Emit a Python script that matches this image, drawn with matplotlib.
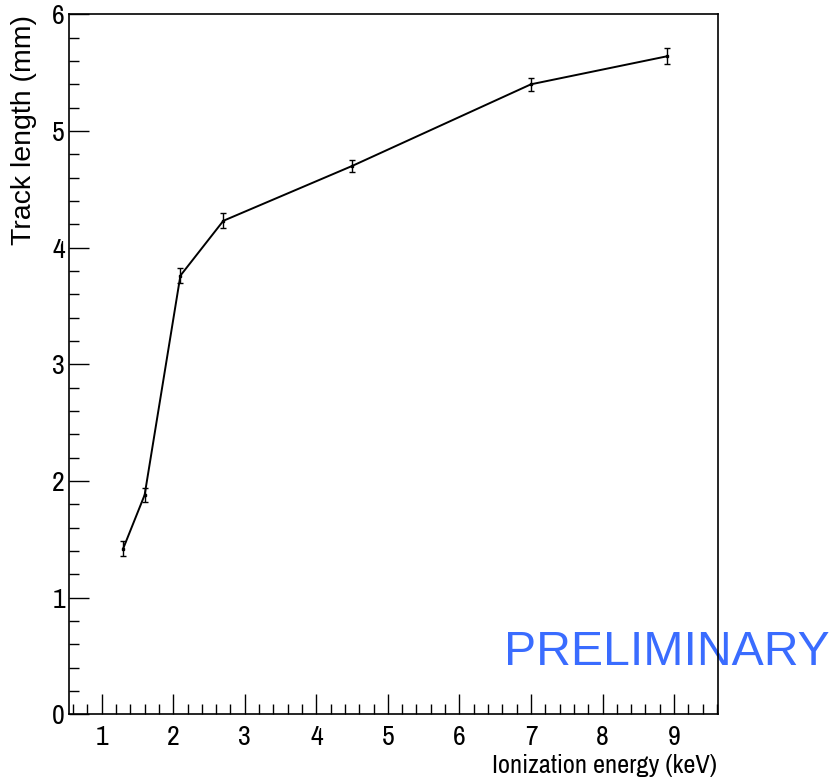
import matplotlib
matplotlib.use("Agg")
import matplotlib.pyplot as plt
from matplotlib import font_manager
from matplotlib.ticker import MultipleLocator

energy_kev = [1.3, 1.6, 2.1, 2.7, 4.5, 7.0, 8.9]
track_mm = [1.42, 1.88, 3.76, 4.23, 4.70, 5.40, 5.64]
track_err = [0.064, 0.064, 0.064, 0.064, 0.055, 0.057, 0.068]

x_label = "Ionization energy (keV)"
y_label = "Track length (mm)"
watermark = "PRELIMINARY"

names = {f.name for f in font_manager.fontManager.ttflist}
narrow = "Liberation Sans"
for cand in ["Liberation Sans Narrow", "Arial Narrow", "Archivo Narrow", "Roboto Condensed"]:
    if cand in names:
        narrow = cand
        break
normal = "Liberation Sans"

fig = plt.figure(figsize=(8.3, 7.78), dpi=100)
ax = fig.add_axes([69 / 830, 1 - 714.3 / 778, (717.7 - 69) / 830, (714.3 - 14.3) / 778])

ax.plot(energy_kev, track_mm, color="black", lw=1.4, zorder=3)
ax.errorbar(energy_kev, track_mm, yerr=track_err, fmt="none", ecolor="black",
            elinewidth=1.0, capsize=2.2, capthick=1.0, zorder=3)
ax.plot(energy_kev, track_mm, "s", color="black", ms=2, zorder=4)

ax.set_xlim(0.543, 9.61)
ax.set_ylim(0, 6)
ax.xaxis.set_major_locator(MultipleLocator(1))
ax.xaxis.set_minor_locator(MultipleLocator(0.2))
ax.yaxis.set_major_locator(MultipleLocator(1))
ax.yaxis.set_minor_locator(MultipleLocator(0.2))
ax.tick_params(which="major", direction="in", length=20 * 0.72, width=1.0,
               top=False, right=False, labelsize=20)
ax.tick_params(which="minor", direction="in", length=10 * 0.72, width=1.0,
               top=False, right=False)
ax.tick_params(axis="x", which="major", pad=8)
ax.tick_params(axis="y", which="major", pad=3)
for lab in ax.get_xticklabels() + ax.get_yticklabels():
    lab.set_fontfamily(narrow)
for s in ax.spines.values():
    s.set_linewidth(1.2)

fig.text(717 / 830, 1 - 773 / 778, x_label, ha="right", va="baseline",
         fontsize=19, family=narrow)
fig.text(24 / 830, 1 - 15 / 778, y_label, ha="center", va="top", rotation=90,
         fontsize=20.5, family=normal)
ax.text(504 / 830, 1 - 665 / 778, watermark, transform=fig.transFigure,
        ha="left", va="baseline", fontsize=34.7, family=normal, color="#3a6cff",
        zorder=2, clip_on=False)

fig.savefig("out.png", dpi=100)
